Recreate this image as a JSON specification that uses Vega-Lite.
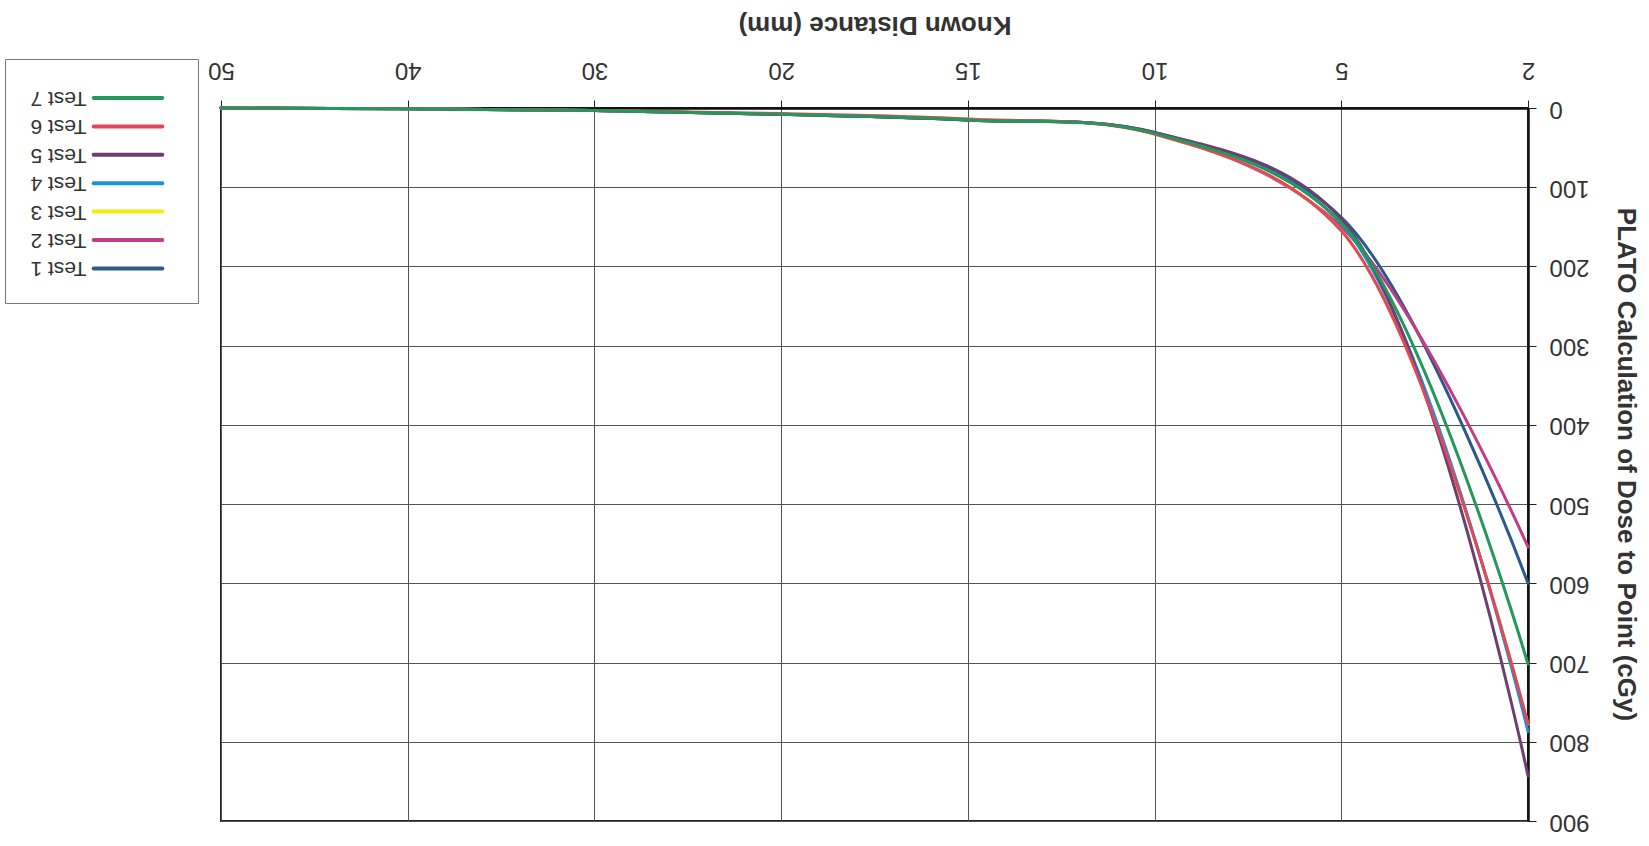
{
  "$schema": "https://vega.github.io/schema/vega-lite/v6.json",
  "width": 1307,
  "height": 713,
  "autosize": {"type": "none"},
  "padding": {"left": 221, "top": 108, "right": 121, "bottom": 25},
  "background": "white",
  "config": {
    "font": "Liberation Sans",
    "view": {"stroke": "#222", "strokeWidth": 2}
  },
  "data": {
    "values": [
      {"test": "Test 1", "distance": 50, "dose": 0},
      {"test": "Test 1", "distance": 40, "dose": 1},
      {"test": "Test 1", "distance": 30, "dose": 3},
      {"test": "Test 1", "distance": 20, "dose": 8},
      {"test": "Test 1", "distance": 15, "dose": 15},
      {"test": "Test 1", "distance": 10, "dose": 31},
      {"test": "Test 1", "distance": 5, "dose": 138},
      {"test": "Test 1", "distance": 2, "dose": 600},
      {"test": "Test 2", "distance": 50, "dose": 0},
      {"test": "Test 2", "distance": 40, "dose": 1},
      {"test": "Test 2", "distance": 30, "dose": 3},
      {"test": "Test 2", "distance": 20, "dose": 8},
      {"test": "Test 2", "distance": 15, "dose": 15},
      {"test": "Test 2", "distance": 10, "dose": 32},
      {"test": "Test 2", "distance": 5, "dose": 150},
      {"test": "Test 2", "distance": 2, "dose": 554},
      {"test": "Test 3", "distance": 50, "dose": 0},
      {"test": "Test 3", "distance": 40, "dose": 1},
      {"test": "Test 3", "distance": 30, "dose": 3},
      {"test": "Test 3", "distance": 20, "dose": 8},
      {"test": "Test 3", "distance": 15, "dose": 14},
      {"test": "Test 3", "distance": 10, "dose": 33},
      {"test": "Test 3", "distance": 5, "dose": 155},
      {"test": "Test 3", "distance": 2, "dose": 778},
      {"test": "Test 4", "distance": 50, "dose": 0},
      {"test": "Test 4", "distance": 40, "dose": 1},
      {"test": "Test 4", "distance": 30, "dose": 3},
      {"test": "Test 4", "distance": 20, "dose": 8},
      {"test": "Test 4", "distance": 15, "dose": 15},
      {"test": "Test 4", "distance": 10, "dose": 32},
      {"test": "Test 4", "distance": 5, "dose": 146},
      {"test": "Test 4", "distance": 2, "dose": 787},
      {"test": "Test 5", "distance": 50, "dose": 0},
      {"test": "Test 5", "distance": 40, "dose": 1},
      {"test": "Test 5", "distance": 30, "dose": 3},
      {"test": "Test 5", "distance": 20, "dose": 8},
      {"test": "Test 5", "distance": 15, "dose": 15},
      {"test": "Test 5", "distance": 10, "dose": 31},
      {"test": "Test 5", "distance": 5, "dose": 140},
      {"test": "Test 5", "distance": 2, "dose": 843},
      {"test": "Test 6", "distance": 50, "dose": 0},
      {"test": "Test 6", "distance": 40, "dose": 1},
      {"test": "Test 6", "distance": 30, "dose": 3},
      {"test": "Test 6", "distance": 20, "dose": 7},
      {"test": "Test 6", "distance": 15, "dose": 14},
      {"test": "Test 6", "distance": 10, "dose": 33},
      {"test": "Test 6", "distance": 5, "dose": 155},
      {"test": "Test 6", "distance": 2, "dose": 778},
      {"test": "Test 7", "distance": 50, "dose": 0},
      {"test": "Test 7", "distance": 40, "dose": 1},
      {"test": "Test 7", "distance": 30, "dose": 3},
      {"test": "Test 7", "distance": 20, "dose": 8},
      {"test": "Test 7", "distance": 15, "dose": 15},
      {"test": "Test 7", "distance": 10, "dose": 32},
      {"test": "Test 7", "distance": 5, "dose": 145},
      {"test": "Test 7", "distance": 2, "dose": 702}
    ]
  },
  "mark": {"type": "line", "interpolate": "catmull-rom", "strokeWidth": 3, "strokeCap": "round"},
  "encoding": {
    "x": {
      "field": "distance",
      "type": "ordinal",
      "scale": {"type": "point", "padding": 0, "domain": [50, 40, 30, 20, 15, 10, 5, 2]},
      "axis": {
        "orient": "top",
        "title": "Known Distance (mm)",
        "grid": true,
        "gridColor": "#555",
        "gridWidth": 1,
        "domainColor": "#111",
        "domainWidth": 2.5,
        "tickColor": "#222",
        "tickSize": 8,
        "labelAngle": 180,
        "labelAlign": "center",
        "labelBaseline": "top",
        "labelFontSize": 24,
        "labelColor": "#333",
        "labelPadding": 19,
        "labelOverlap": false,
        "titleAngle": 180,
        "titleAlign": "center",
        "titleBaseline": "top",
        "titleFontSize": 26,
        "titleFontWeight": "bold",
        "titleColor": "#333",
        "titleY": -71
      }
    },
    "y": {
      "field": "dose",
      "type": "quantitative",
      "scale": {"domain": [0, 900], "reverse": true, "nice": false},
      "axis": {
        "orient": "right",
        "title": "PLATO Calculation of Dose to Point (cGy)",
        "values": [0, 100, 200, 300, 400, 500, 600, 700, 800, 900],
        "grid": true,
        "gridColor": "#555",
        "gridWidth": 1,
        "domainColor": "#111",
        "domainWidth": 2.5,
        "tickColor": "#222",
        "tickSize": 8,
        "labelAngle": 180,
        "labelAlign": "right",
        "labelBaseline": "middle",
        "labelFontSize": 24,
        "labelColor": "#333",
        "labelPadding": 13,
        "labelOverlap": false,
        "titleAngle": 90,
        "titleAlign": "center",
        "titleBaseline": "middle",
        "titleFontSize": 26,
        "titleFontWeight": "bold",
        "titleColor": "#333",
        "titleX": 97,
        "titleY": 356
      }
    },
    "color": {
      "field": "test",
      "type": "nominal",
      "scale": {
        "domain": ["Test 7", "Test 6", "Test 5", "Test 4", "Test 3", "Test 2", "Test 1"],
        "range": ["#23985a", "#e0475c", "#6b3f6e", "#1a93d9", "#f2ea12", "#c23b86", "#2b5a8a"]
      },
      "legend": {
        "orient": "none",
        "legendX": -216,
        "legendY": -49,
        "title": null,
        "direction": "vertical",
        "symbolType": "M-2.45,0H2.45M2.75,0",
        "symbolSize": 784,
        "symbolStrokeWidth": 4,
        "rowPadding": 0.4,
        "padding": 23,
        "labelFontSize": 21,
        "labelColor": "#333",
        "strokeColor": "#777",
        "fillColor": "white",
        "encode": {
          "symbols": {
            "update": {
              "x": {"value": 100},
              "strokeCap": {"value": "round"}
            }
          },
          "labels": {
            "update": {
              "x": {"value": 58.5},
              "angle": {"value": 180},
              "align": {"value": "left"},
              "baseline": {"value": "middle"}
            }
          }
        }
      }
    }
  }
}
